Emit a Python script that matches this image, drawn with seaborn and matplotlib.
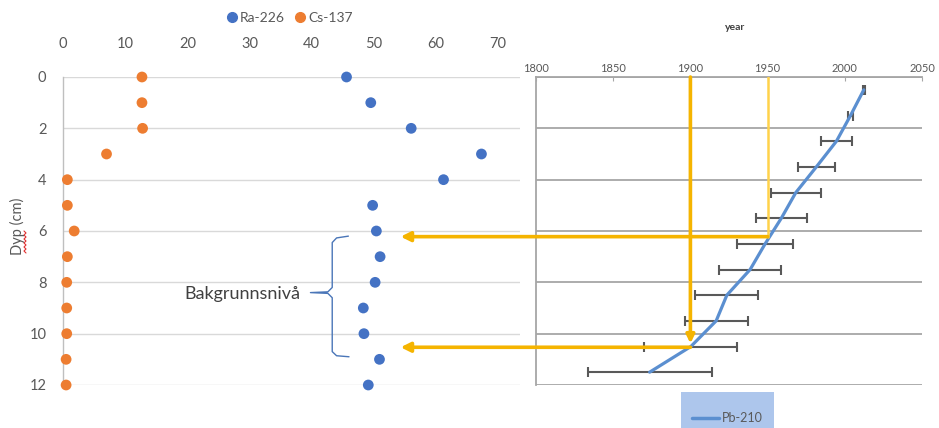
import numpy as np
import pandas as pd
import matplotlib
matplotlib.use("Agg")
import matplotlib.pyplot as plt
import seaborn as sns
from matplotlib.patches import Rectangle, ConnectionPatch
from matplotlib.lines import Line2D

# ---------------- data ----------------
depth = [0, 1, 2, 3, 4, 5, 6, 7, 8, 9, 10, 11, 12]
ra226 = [45.6, 49.5, 56.0, 67.3, 61.2, 49.8, 50.4, 51.0, 50.2, 48.3, 48.4, 50.9, 49.1]
cs137 = [12.7, 12.7, 12.8, 7.0, 0.7, 0.7, 1.8, 0.7, 0.6, 0.6, 0.6, 0.5, 0.5]

pb_depth = [0.5, 1.5, 2.5, 3.5, 4.5, 5.5, 6.5, 7.5, 8.5, 9.5, 10.5, 11.5]
pb_year = [2012.3, 2003.7, 1994.6, 1981.6, 1968.3, 1958.9, 1948.4, 1938.7,
           1923.6, 1916.7, 1900.3, 1873.6]
pb_err = [0.5, 1.6, 10.1, 12.2, 16.2, 16.3, 18.1, 20.3, 20.3, 20.3, 30.2, 40.1]

left_xticks = [0, 10, 20, 30, 40, 50, 60, 70]
depth_ticks = [0, 2, 4, 6, 8, 10, 12]
year_ticks = [1800, 1850, 1900, 1950, 2000, 2050]
marker_year_a, marker_depth_a = 1950, 6.22
marker_year_b, marker_depth_b = 1900, 10.53

# ---------------- style ----------------
sns.set_style("white")
plt.rcParams["font.family"] = ["Lato", "DejaVu Sans"]

W, H = 939, 428
fig = plt.figure(figsize=(W / 100, H / 100), dpi=100)

def fx(px):
    return px / W

def fy(py):
    return 1 - py / H

axL = fig.add_axes([fx(63), fy(385), fx(520 - 63), (385 - 77) / H])
axR = fig.add_axes([fx(536), fy(385), fx(922 - 536), (385 - 77) / H])

# ---------------- left panel ----------------
df = pd.DataFrame({
    "depth": depth * 2,
    "value": ra226 + cs137,
    "series": ["Ra-226"] * len(depth) + ["Cs-137"] * len(depth),
})
pal = {"Ra-226": "#4472C4", "Cs-137": "#ED7D31"}
sns.scatterplot(data=df, x="value", y="depth", hue="series", palette=pal,
                s=60, edgecolor="none", legend=False, ax=axL, zorder=3,
                clip_on=False)
axL.set_xlim(0, 73.5)
axL.set_ylim(12, 0)
axL.set_xticks(left_xticks)
axL.set_yticks(depth_ticks)
axL.xaxis.tick_top()
axL.tick_params(axis="x", length=0, pad=18.5, labelsize=10.5, labelcolor="#595959")
axL.tick_params(axis="y", length=0, pad=12, labelsize=10.5, labelcolor="#595959")
axL.set_xlabel("")
axL.set_ylabel("")
for s in ["top", "right", "bottom"]:
    axL.spines[s].set_visible(False)
axL.spines["left"].set_color("#BFBFBF")
axL.spines["left"].set_linewidth(1.0)
axL.yaxis.grid(True, color="#D9D9D9", lw=1.0)
axL.xaxis.grid(False)
axL.set_axisbelow(True)

# brace + label
tip = 39.8
brace_x = [45.9, 44.0, 43.3, 43.3, 42.6, tip, 42.6, 43.3, 43.3, 44.0, 46.0]
brace_y = [6.2, 6.27, 6.45, 8.2, 8.37, 8.4, 8.43, 8.6, 10.7, 10.86, 10.9]
axL.plot(brace_x, brace_y, color="#4A76B8", lw=1.0, zorder=2)
axL.text(38.2, 8.45, "Bakgrunnsnivå", ha="right", va="center",
         fontsize=13, color="#404040")

# legend for left panel
hL = [Line2D([], [], marker="o", ls="none", color=pal["Ra-226"], markersize=7),
      Line2D([], [], marker="o", ls="none", color=pal["Cs-137"], markersize=7)]
fig.legend(hL, ["Ra-226", "Cs-137"], loc="center", ncol=2,
           bbox_to_anchor=(fx(289), fy(18)), frameon=False, fontsize=10,
           labelcolor="#595959", handletextpad=0.1, columnspacing=0.6,
           handlelength=1.0)

fig.text(fx(17), fy(226), "Dyp (cm)", rotation=90, ha="center", va="center",
         fontsize=10.5, color="#595959")
# spell-check squiggle under "Dyp"
zz_y = np.arange(231, 254, 2.0)
zz_x = np.where(np.arange(len(zz_y)) % 2 == 0, 24.0, 26.0)
fig.add_artist(Line2D(fx(zz_x), fy(zz_y), color="#E03030", lw=0.8,
                      transform=fig.transFigure))

# ---------------- right panel ----------------
sns.lineplot(x=pb_year, y=pb_depth, sort=False, estimator=None,
             color="#5B8FD0", lw=2.3, ax=axR, zorder=4)
axR.errorbar(pb_year, pb_depth, xerr=pb_err, fmt="none", ecolor="#595959",
             elinewidth=1.5, capsize=3.5, capthick=1.5, zorder=3)
axR.set_xlim(1800, 2050)
axR.set_ylim(12, 0)
axR.set_xticks(year_ticks)
axR.set_yticks(depth_ticks)
axR.xaxis.tick_top()
axR.tick_params(axis="x", direction="in", length=3, color="#A6A6A6",
                pad=2.5, labelsize=8, labelcolor="#595959")
axR.tick_params(axis="y", direction="out", length=6, color="#A6A6A6",
                labelleft=False)
axR.set_xlabel("")
axR.set_ylabel("")
for s in ["right", "bottom"]:
    axR.spines[s].set_visible(False)
for s in ["top", "left"]:
    axR.spines[s].set_color("#A6A6A6")
    axR.spines[s].set_linewidth(1.3)
axR.yaxis.grid(True, color="#A6A6A6", lw=1.3)
axR.xaxis.grid(False)
axR.set_axisbelow(True)
fig.text(fx(735), fy(28), "year", ha="center", va="center", fontsize=7.5,
         fontweight="bold", color="#404040")

# yellow guide lines
axR.annotate("", xy=(marker_year_b, marker_depth_b - 0.15),
             xytext=(marker_year_b, 0),
             arrowprops=dict(arrowstyle="-|>", color="#F5B400", lw=2.6,
                             mutation_scale=12, shrinkA=0, shrinkB=0),
             zorder=5)
axR.plot([marker_year_a, marker_year_a], [0, marker_depth_a], color="#FFD24A",
         lw=1.8, zorder=5)

for yr, dp in [(marker_year_a, marker_depth_a), (marker_year_b, marker_depth_b)]:
    cp = ConnectionPatch(xyA=(yr, dp), coordsA=axR.transData,
                         xyB=(54.3, dp), coordsB=axL.transData,
                         arrowstyle="-|>", color="#F5B400", lw=2.6,
                         mutation_scale=14, shrinkA=0, shrinkB=0, zorder=6)
    fig.add_artist(cp)

# Pb-210 legend box
fig.add_artist(Rectangle((fx(681), 0), fx(774 - 681), (428 - 392) / H,
                         transform=fig.transFigure, facecolor="#ADC6EC",
                         edgecolor="none", zorder=0))
fig.legend([Line2D([], [], color="#5B8FD0", lw=2.5)], ["Pb-210"],
           loc="center", bbox_to_anchor=(fx(727), fy(418)), frameon=False,
           fontsize=9, labelcolor="#595959", handlelength=2.2,
           handletextpad=0.2)

fig.savefig("out.png", dpi=100)
